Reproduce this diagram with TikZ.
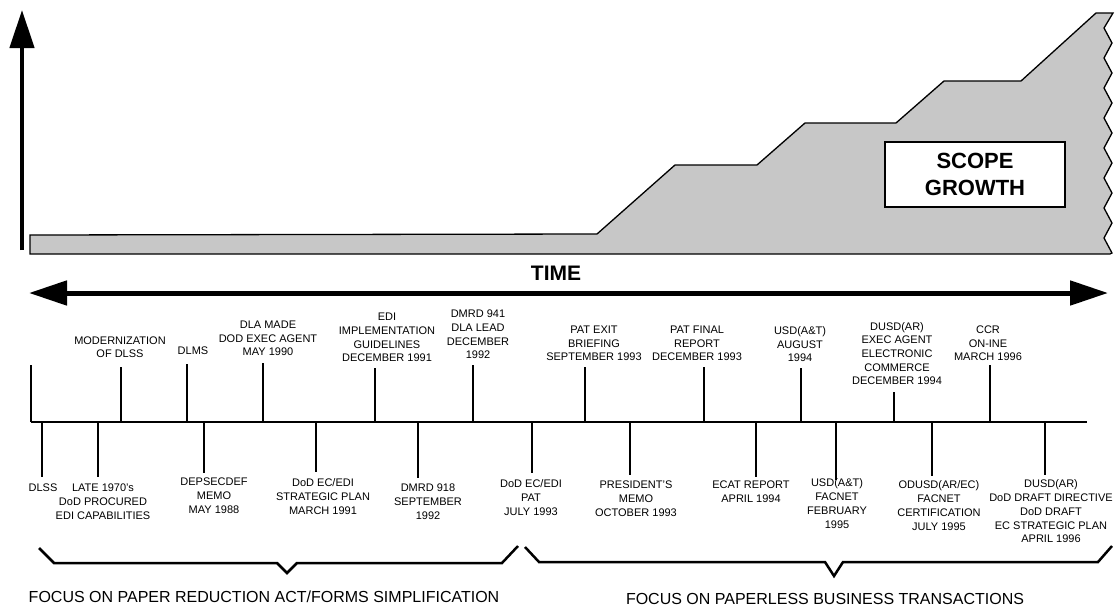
\documentclass[tikz,border=0pt]{standalone}
\usepackage{fontspec}
\setmainfont{Liberation Sans}
\usepackage{tikz}
\usetikzlibrary{arrows.meta}
\newcommand*{\eventfont}{\fontsize{11}{13.7}\selectfont}
\newcommand*{\focusfont}{\fontsize{16}{19}\selectfont}
\definecolor{scope}{gray}{0.78}
\tikzstyle{base}=[inner sep=0pt, outer sep=0pt]
\tikzstyle{tick}=[black, line width=1.3pt]
\tikzstyle{event}=[base, align=center, font=\eventfont]
\tikzstyle{brace}=[black, line width=2.5pt]
\tikzset{>={Triangle[length=38pt,width=24pt]}}

\begin{document}
\begin{tikzpicture}[x=1pt, y=-1pt, base]
    \path [use as bounding box] (0,0) rectangle (1116,608);
    % scope growth
    \draw [black, line width=1.3pt, fill=scope] (30,254) -- (30,235) -- (597,234) -- (675,165) -- (757,165)
        -- (805,123) -- (896,123) -- (944,81) -- (1021,81) -- (1096,13) -- (1113,13)
        \foreach \k in {0,...,7} { -- (1104,28+30*\k) -- (1112,43+30*\k) } -- (1110,254) -- cycle;
    \node [draw=black, line width=1.3pt, fill=white, minimum width=180pt, minimum height=65pt,
        align=center, font=\bfseries\fontsize{22}{27}\selectfont] (scopebox) at (975,174.5) {SCOPE\\GROWTH};
    \coordinate (scopefoot) at (22,250);
    \coordinate (scopetop) at (22,10);
    \draw [black, line width=4.5pt, ->] (scopefoot) -- (scopetop);
    % time axis
    \node [font=\bfseries\fontsize{21}{25}\selectfont] (time) at (556,273) {TIME};
    \coordinate (past) at (29,293);
    \coordinate (future) at (1108,293);
    \draw [black, line width=5pt, <->] (past) -- (future);
    % timeline
    \coordinate (lineleft) at (31,422);
    \coordinate (lineright) at (1087,422);
    \draw [black, line width=2.2pt] (lineleft) -- (lineright);
    \coordinate (hiend1) at (31,365);
    \draw [tick] (lineleft) -- (hiend1);
    \foreach \n/\tx/\ty/\lx/\ly/\txt in {
        2/121/367/120/358/{MODERNIZATION\\OF DLSS},
        3/187/364/193/355/{DLMS},
        4/263/363/268/356/{DLA MADE\\DOD EXEC AGENT\\MAY 1990},
        5/375/368/387/362/{EDI\\IMPLEMENTATION\\GUIDELINES\\DECEMBER 1991},
        6/473/365/478/359/{DMRD 941\\DLA LEAD\\DECEMBER\\1992},
        7/585/367/594/361/{PAT EXIT\\BRIEFING\\SEPTEMBER 1993},
        8/704/367/697/361/{PAT FINAL\\REPORT\\DECEMBER 1993},
        9/801/368/800/362/{USD(A\&T)\\AUGUST\\1994},
        10/894/392/897/385/{DUSD(AR)\\EXEC AGENT\\ELECTRONIC\\COMMERCE\\DECEMBER 1994},
        11/990/365/988/361/{CCR\\ON-INE\\MARCH 1996}}
    {
        \coordinate (hitick\n) at (\tx,422);
        \coordinate (hiend\n) at (\tx,\ty);
        \draw [tick] (hitick\n) -- (hiend\n);
        \node [event, anchor=south] (hi\n) at (\lx,\ly) {\txt};
    }
    \foreach \n/\tx/\ty/\lx/\ly/\txt in {
        1/42/477/43/484/{DLSS},
        2/98/477/103/484/{LATE 1970's\\DoD PROCURED\\EDI CAPABILITIES},
        3/204/473/214/478/{DEPSECDEF\\MEMO\\MAY 1988},
        4/316/472/323/479/{DoD EC/EDI\\STRATEGIC PLAN\\MARCH 1991},
        5/418/478/428/484/{DMRD 918\\SEPTEMBER\\1992},
        6/532/473/531/480/{DoD EC/EDI\\PAT\\JULY 1993},
        7/630/475/636/481/{PRESIDENT'S\\MEMO\\OCTOBER 1993},
        8/756/477/751/481/{ECAT REPORT\\APRIL 1994},
        9/836/480/837/479/{USD(A\&T)\\FACNET\\FEBRUARY\\1995},
        10/932/476/939/481/{ODUSD(AR/EC)\\FACNET\\CERTIFICATION\\JULY 1995},
        11/1045/475/1051/480/{DUSD(AR)\\DoD DRAFT DIRECTIVE\\DoD DRAFT\\EC STRATEGIC PLAN\\APRIL 1996}}
    {
        \coordinate (lotick\n) at (\tx,422);
        \coordinate (loend\n) at (\tx,\ty);
        \draw [tick] (lotick\n) -- (loend\n);
        \node [event, anchor=north] (lo\n) at (\lx,\ly) {\txt};
    }
    % focus periods
    \draw [brace] (39,548) -- (54,563) -- (277,563) -- (287,573) -- (297,563) -- (502,563) -- (518,546);
    \draw [brace] (525,547) -- (539,562) -- (825,562) -- (834,576) -- (843,562) -- (1098,562) -- (1112,546);
    \node [font=\focusfont, anchor=base] (paperfocus) at (264,602) {FOCUS ON PAPER REDUCTION ACT/FORMS SIMPLIFICATION};
    \node [font=\focusfont, anchor=base] (paperless) at (825,604) {FOCUS ON PAPERLESS BUSINESS TRANSACTIONS};
\end{tikzpicture}
\end{document}
